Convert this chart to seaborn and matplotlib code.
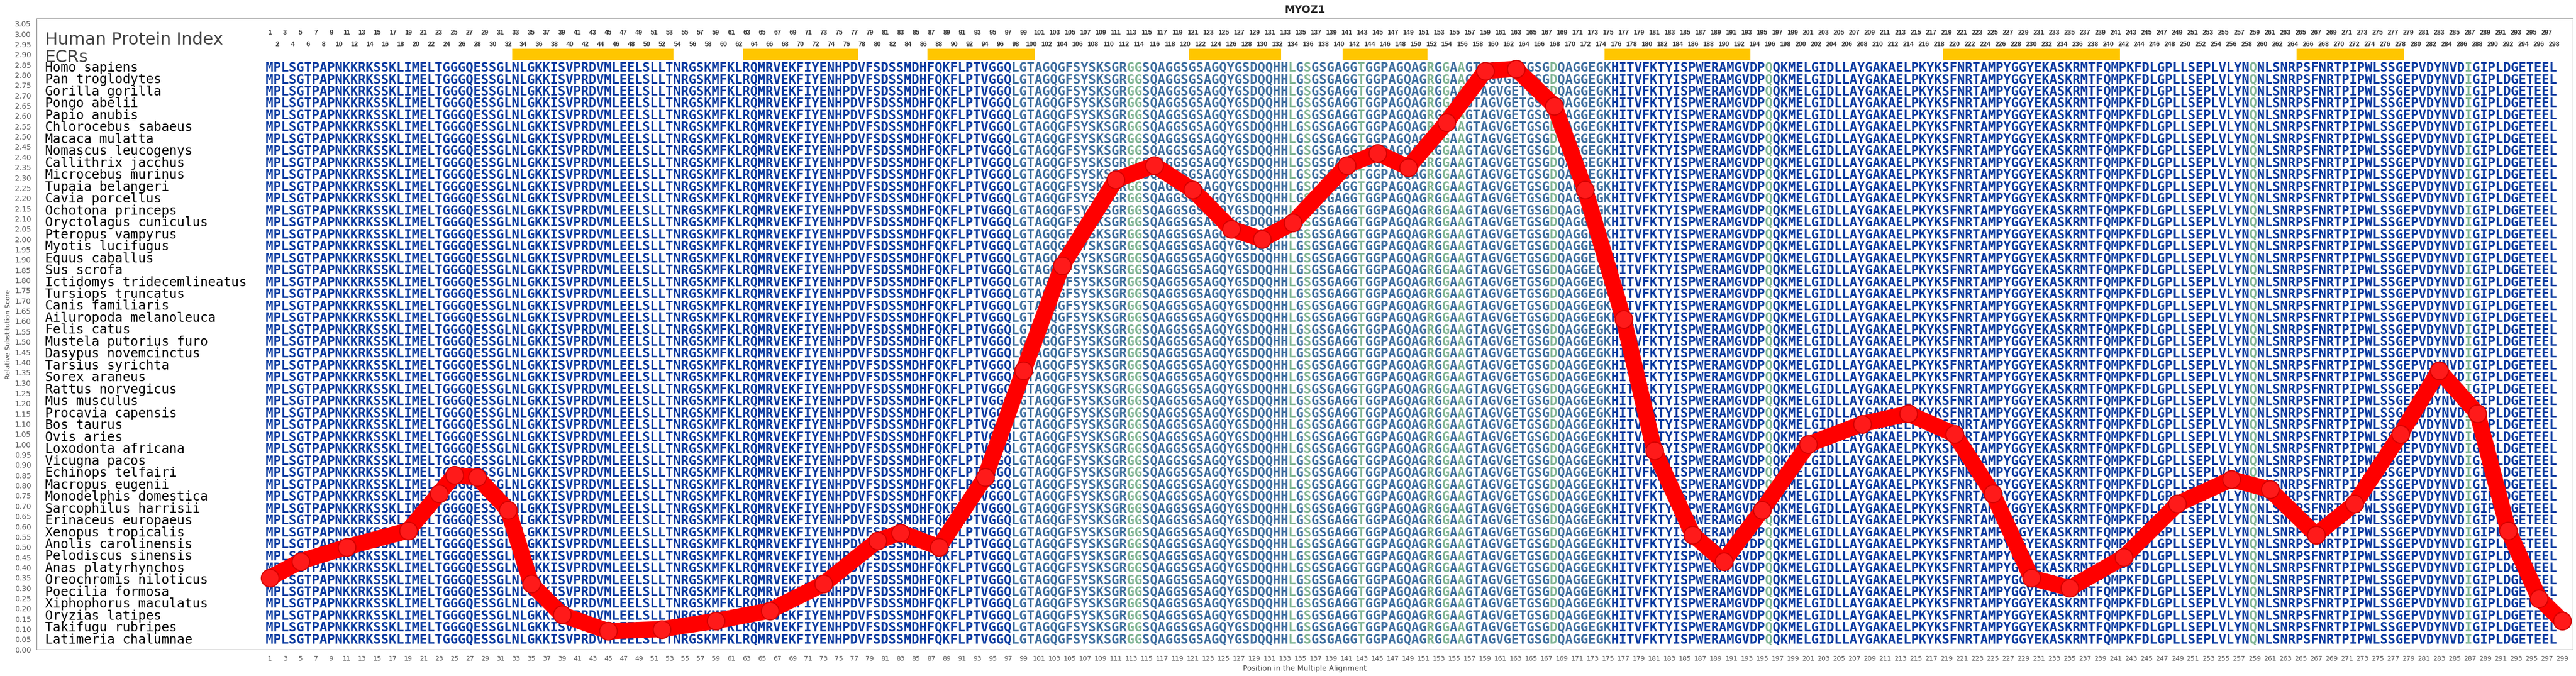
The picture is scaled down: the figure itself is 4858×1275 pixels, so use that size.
import numpy as np
import pandas as pd
import matplotlib
matplotlib.use("Agg")
import matplotlib.pyplot as plt
import seaborn as sns

# human MYOZ1 sequence as read from the alignment's first row
human_seq = ("MPLSGTPAPNKKRKSSKLIMELTGGGQESSGLNLGKKISVPRDVMLEELSLLTNRGSKMF"
             "KLRQMRVEKFIYENHPDVFSDSSMDHFQKFLPTVGGQLGTAGQGFSYSKSGRGGSQAGGS"
             "GSAGQYGSDQQHHLGSGSGAGGTGGPAGQAGRGGAAGTAGVGETGSGDQAGGEGKHITVF"
             "KTYISPWERAMGVDPQQKMELGIDLLAYGAKAELPKYKSFNRTAMPYGGYEKASKRMTFQ"
             "MPKFDLGPLLSEPLVLYNQNLSNRPSFNRTPIPWLSSGEPVDYNVDIGIPLDGETEEL")

species = ["Homo sapiens", "Pan troglodytes", "Gorilla gorilla", "Pongo abelii",
           "Papio anubis", "Chlorocebus sabaeus", "Macaca mulatta",
           "Nomascus leucogenys", "Callithrix jacchus", "Microcebus murinus",
           "Tupaia belangeri", "Cavia porcellus", "Ochotona princeps",
           "Oryctolagus cuniculus", "Pteropus vampyrus", "Myotis lucifugus",
           "Equus caballus", "Sus scrofa", "Ictidomys tridecemlineatus",
           "Tursiops truncatus", "Canis familiaris", "Ailuropoda melanoleuca",
           "Felis catus", "Mustela putorius furo", "Dasypus novemcinctus",
           "Tarsius syrichta", "Sorex araneus", "Rattus norvegicus",
           "Mus musculus", "Procavia capensis", "Bos taurus", "Ovis aries",
           "Loxodonta africana", "Vicugna pacos", "Echinops telfairi",
           "Macropus eugenii", "Monodelphis domestica", "Sarcophilus harrisii",
           "Erinaceus europaeus", "Xenopus tropicalis", "Anolis carolinensis",
           "Pelodiscus sinensis", "Anas platyrhynchos", "Oreochromis niloticus",
           "Poecilia formosa", "Xiphophorus maculatus", "Oryzias latipes",
           "Takifugu rubripes", "Latimeria chalumnae"]

# ECR blocks (alignment positions)
ecr_start = [33, 63, 87, 121, 141, 175, 219, 265]
ecr_end = [53, 77, 100, 132, 151, 193, 241, 278]

# less conserved columns (lighter letters)
mid_start, mid_end = 98, 175
light_cols = [113, 114, 134, 136, 143, 152, 154, 156, 168, 196, 259, 287]

# relative substitution score curve
score_pos = [1, 5, 11, 19, 23, 25, 28, 32, 35, 39, 45, 52, 59, 66, 73, 80, 83,
             88, 94, 99, 104, 111, 116, 121, 126, 130, 134, 141, 145, 149, 154,
             159, 163, 168, 172, 177, 181, 186, 190, 195, 201, 208, 214, 220,
             225, 230, 235, 242, 249, 256, 261, 267, 272, 278, 283, 288, 292,
             296, 299]
score_val = [0.35, 0.43, 0.50, 0.58, 0.76, 0.85, 0.84, 0.68, 0.32, 0.17, 0.09,
             0.10, 0.14, 0.19, 0.32, 0.53, 0.57, 0.50, 0.84, 1.36, 1.87, 2.29,
             2.36, 2.24, 2.05, 2.00, 2.08, 2.36, 2.42, 2.35, 2.57, 2.82, 2.83,
             2.65, 2.24, 1.61, 0.97, 0.56, 0.43, 0.68, 1.00, 1.10, 1.15, 1.05,
             0.76, 0.35, 0.30, 0.45, 0.71, 0.83, 0.78, 0.56, 0.71, 1.05, 1.36,
             1.15, 0.58, 0.25, 0.14]

n_cols = 299
sns.set_style("white")

fig = plt.figure(figsize=(48.58, 12.75), dpi=100)
ax = fig.add_axes([0.0142, 0.039, 0.9846, 0.9335])
ax.set_xlim(-29.3, 300.4)
ax.set_ylim(0, 3.075)

# colour classes per column
def col_class(c):
    if c in light_cols:
        return 2
    if mid_start <= c <= mid_end:
        return 1
    return 0

classes = [col_class(i + 1) for i in range(len(human_seq))]
colors = ["#0a3aa0", "#3d6d9e", "#7fb493"]

row_y0, row_step = 2.835, 0.05807
for r, name in enumerate(species):
    y = row_y0 - r * row_step
    ax.text(-28.2, y, name, family="DejaVu Sans Mono", fontsize=17.5,
            va="center", ha="left", color="black")
    for k in range(3):
        s = "".join(ch if classes[i] == k else " " for i, ch in enumerate(human_seq))
        ax.text(0.5, y, s, family="DejaVu Sans Mono", fontsize=17.4,
                fontweight="bold", va="center", ha="left", color=colors[k])

# headers
ax.text(-28.2, 2.97, "Human Protein Index", fontsize=23,
        color="#444444", va="center", ha="left")
ax.text(-28.2, 2.885, "ECRs", fontsize=23,
        color="#444444", va="center", ha="left")
for i in range(1, len(human_seq) + 1):
    yy = 3.005 if i % 2 == 1 else 2.948
    ax.text(i, yy, str(i), fontsize=9, fontweight="bold", color="#333333",
            ha="center", va="center", family="Liberation Sans")
for s0, s1 in zip(ecr_start, ecr_end):
    ax.axvspan(s0 - 0.5, s1 + 0.5, ymin=2.873 / 3.075, ymax=2.928 / 3.075,
               color="#ffc600", lw=0)

# score curve
df = pd.DataFrame({"pos": score_pos, "score": score_val})
sns.lineplot(data=df, x="pos", y="score", ax=ax, color="#ff0000", lw=22,
             marker="o", markersize=24, markerfacecolor="#ff1a1a",
             markeredgecolor="#d40000", markeredgewidth=1.5, zorder=5,
             solid_capstyle="round", solid_joinstyle="round")

ax.set_yticks(np.round(np.arange(0, 3.051, 0.05), 2))
ax.set_yticklabels([f"{v:.2f}" for v in np.arange(0, 3.051, 0.05)],
                   fontsize=10, color="#555555")
ax.set_xticks(range(1, n_cols + 1, 2))
ax.set_xticklabels([str(i) for i in range(1, n_cols + 1, 2)], fontsize=9,
                   color="#555555")
ax.set_xticks(np.arange(-29, n_cols + 1, 2), minor=True)
ax.tick_params(axis="x", which="both", length=4, color="#999999")
ax.tick_params(axis="y", length=4, color="#999999")
ax.set_xlabel("Position in the Multiple Alignment", fontsize=10, color="#444444")
ax.set_ylabel("Relative Substitution Score", fontsize=9, color="#444444")
ax.set_title("MYOZ1", fontsize=14, fontweight="bold", pad=8)
for sp in ax.spines.values():
    sp.set_color("#888888")

fig.savefig("out.png", dpi=100)
